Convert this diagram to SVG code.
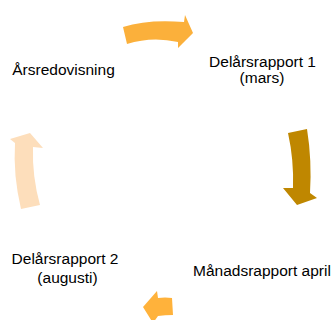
<svg xmlns="http://www.w3.org/2000/svg" width="334" height="320" viewBox="0 0 334 320">
  <style>
    .lbl { font-family: "Liberation Sans", Arial, sans-serif; font-size: 15.5px; fill: #000; text-anchor: middle; }
  </style>
  <rect width="334" height="320" fill="#fff"/>
  <g id="connectors">
    <path id="arrow-top" d="M123,27 Q148,19 184,22 L185,15 L193,33 L178,48 L178,42 Q152,36 127,44 Z" fill="#FBB03B"/>
    <path id="arrow-right" d="M288,133 Q294,160 293,188 L283,188 L297,205 L317,198 L310,193 Q312,160 307,129 Z" fill="#BF8700"/>
    <path id="arrow-bottom" d="M172,298 Q165,297 158,298 L157,291 L143,307 L153,323 L158,316 Q165,315 173,315 Z" fill="#FFB23B"/>
    <path id="arrow-left" d="M21,209 Q13,175 15,143 L10,139 L30,133 L43,148 L33,147 Q32,176 40,205 Z" fill="#FDDEBB"/>
  </g>
  <g id="node-arsredovisning">
    <text class="lbl" x="63.5" y="75">Årsredovisning</text>
  </g>
  <g id="node-delar1">
    <text class="lbl" x="262.5" y="66.5">Delårsrapport 1</text>
    <text class="lbl" x="262" y="82.5">(mars)</text>
  </g>
  <g id="node-manad">
    <text class="lbl" x="262" y="276">Månadsrapport april</text>
  </g>
  <g id="node-delar2">
    <text class="lbl" x="65" y="264">Delårsrapport 2</text>
    <text class="lbl" x="67.5" y="282.5">(augusti)</text>
  </g>
</svg>
